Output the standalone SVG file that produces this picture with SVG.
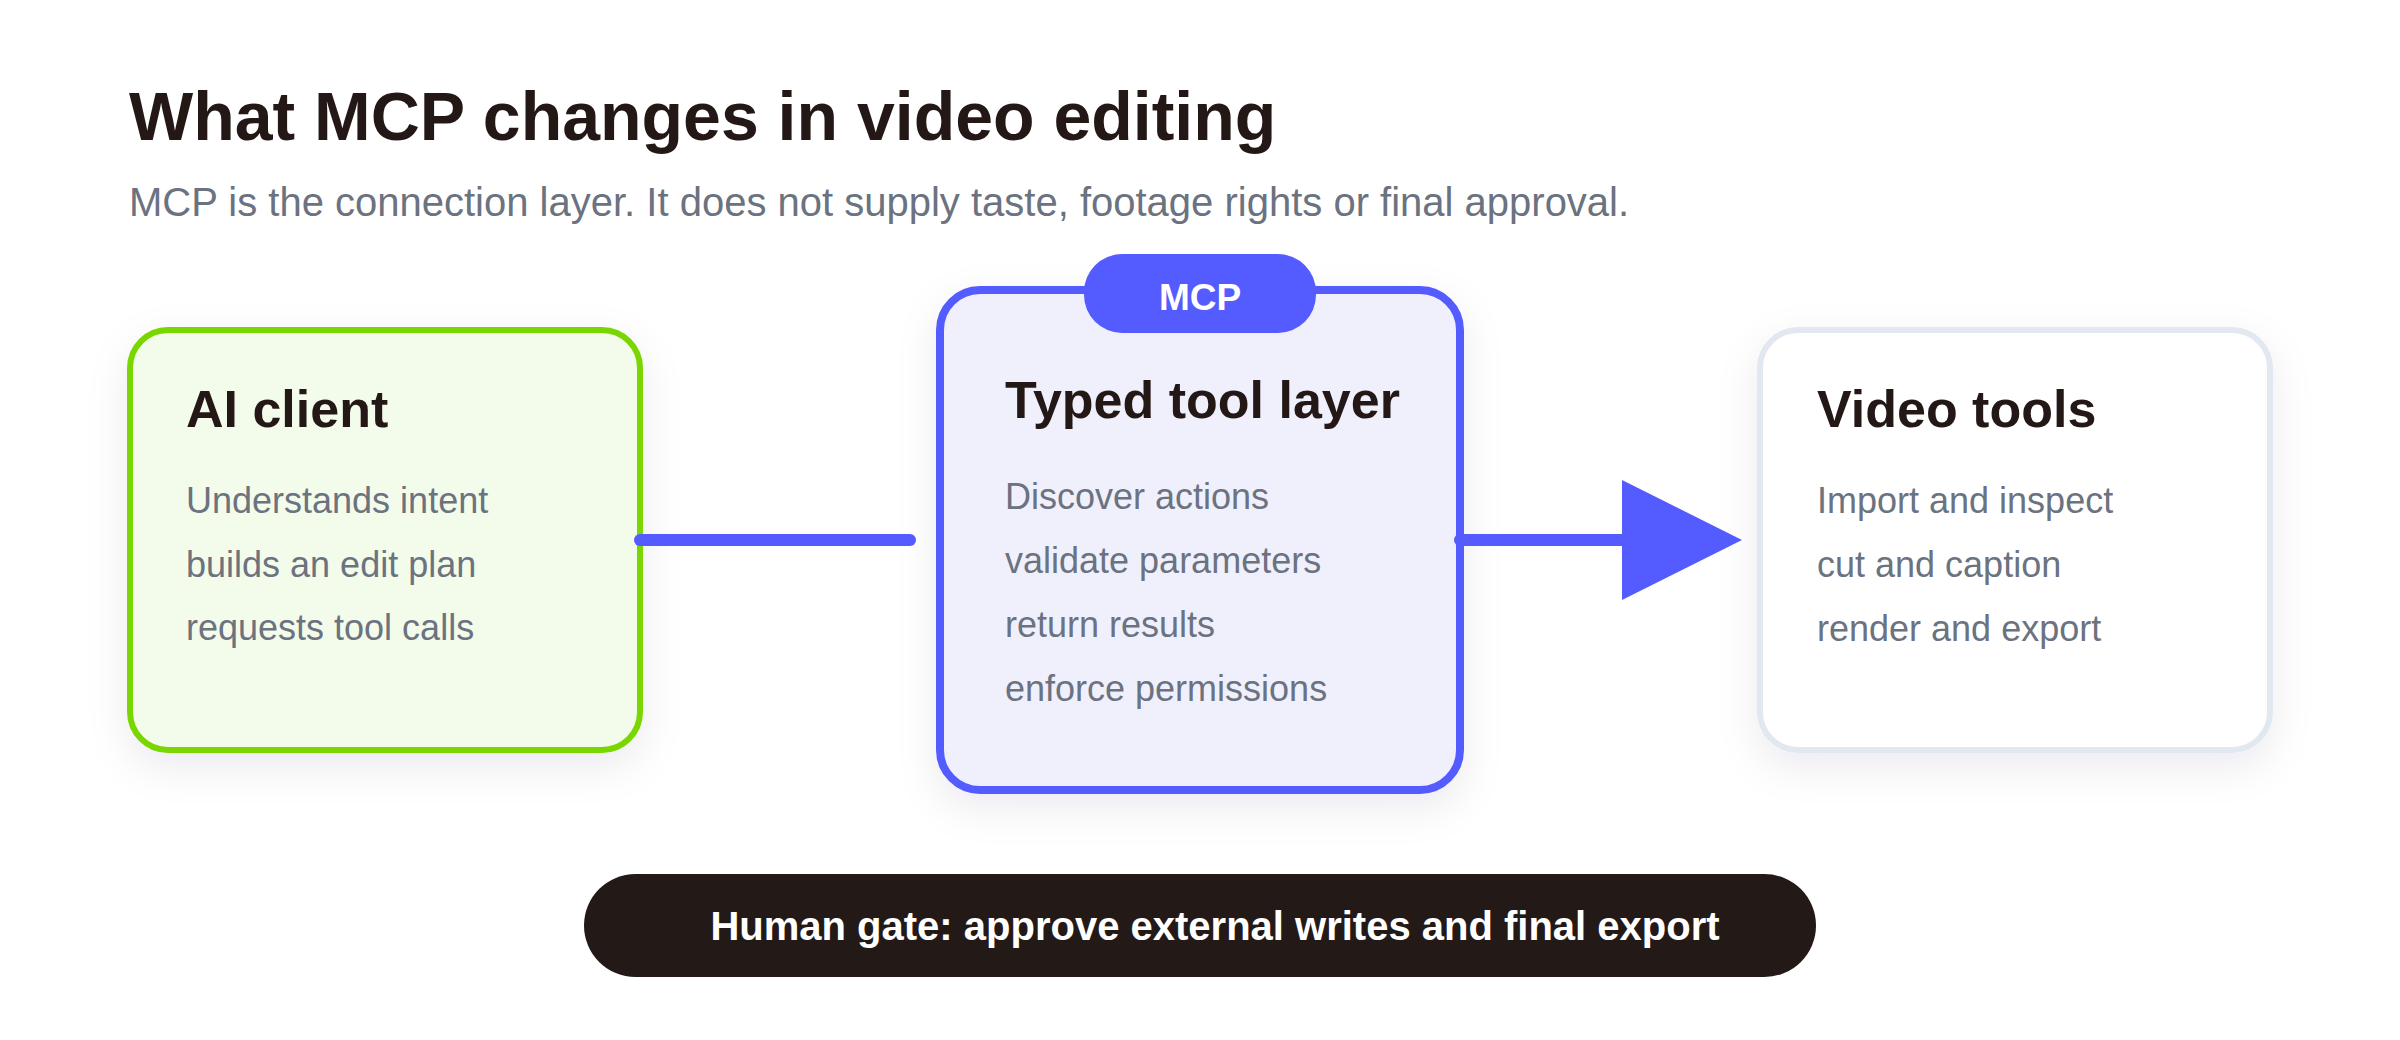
<svg xmlns="http://www.w3.org/2000/svg" width="2400" height="1040" viewBox="0 0 2400 1040">
  <defs>
    <filter id="shadow" x="-20%" y="-20%" width="140%" height="150%">
      <feDropShadow dx="0" dy="14" stdDeviation="20" flood-color="#1f2937" flood-opacity="0.08"/>
    </filter>
    <marker id="arrow" viewBox="0 0 10 10" markerWidth="10" markerHeight="10" refX="0" refY="5" orient="auto" markerUnits="strokeWidth">
      <path d="M0,0 L10,5 L0,10 Z" fill="#545bff"/>
    </marker>
    <style>
      .title { font-family: "Liberation Sans", Arial, Helvetica, sans-serif; font-weight: 700; font-size: 68px; fill: #231815; }
      .subtitle { font-family: "Liberation Sans", Arial, Helvetica, sans-serif; font-size: 40px; fill: #6b7280; }
      .ntitle { font-family: "Liberation Sans", Arial, Helvetica, sans-serif; font-weight: 700; font-size: 52px; fill: #231815; }
      .body { font-family: "Liberation Sans", Arial, Helvetica, sans-serif; font-size: 36px; fill: #6b7280; }
      .badge { font-family: "Liberation Sans", Arial, Helvetica, sans-serif; font-weight: 700; font-size: 37px; fill: #ffffff; }
      .gate { font-family: "Liberation Sans", Arial, Helvetica, sans-serif; font-weight: 700; font-size: 40px; fill: #ffffff; }
      .conn { fill: none; stroke: #545bff; stroke-width: 12; stroke-linecap: round; }
    </style>
  </defs>
  <rect x="0" y="0" width="2400" height="1040" fill="#ffffff"/>

  <g id="heading">
    <text class="title" x="129" y="140">What MCP changes in video editing</text>
    <text class="subtitle" x="129" y="216">MCP is the connection layer. It does not supply taste, footage rights or final approval.</text>
  </g>

  <g id="node-ai-client">
    <rect x="130" y="330" width="510" height="420" rx="38" fill="#f3fbea" stroke="#7ad600" stroke-width="6" filter="url(#shadow)"/>
    <text class="ntitle" x="186" y="427">AI client</text>
    <text class="body" x="186" y="513">Understands intent</text>
    <text class="body" x="186" y="577">builds an edit plan</text>
    <text class="body" x="186" y="640">requests tool calls</text>
  </g>

  <g id="node-video-tools">
    <rect x="1760" y="330" width="510" height="420" rx="38" fill="#ffffff" stroke="#e2e8f0" stroke-width="6" filter="url(#shadow)"/>
    <text class="ntitle" x="1817" y="427">Video tools</text>
    <text class="body" x="1817" y="513">Import and inspect</text>
    <text class="body" x="1817" y="577">cut and caption</text>
    <text class="body" x="1817" y="641">render and export</text>
  </g>

  <g id="node-typed-tool-layer">
    <rect x="940" y="290" width="520" height="500" rx="40" fill="#f0f0fd" stroke="#545bff" stroke-width="8" filter="url(#shadow)"/>
    <text class="ntitle" x="1005" y="418">Typed tool layer</text>
    <text class="body" x="1005" y="509">Discover actions</text>
    <text class="body" x="1005" y="573">validate parameters</text>
    <text class="body" x="1005" y="637">return results</text>
    <text class="body" x="1005" y="701">enforce permissions</text>
  </g>

  <g id="badge-mcp">
    <rect x="1084" y="254" width="232" height="79" rx="38" fill="#545bff"/>
    <text class="badge" x="1200" y="310" text-anchor="middle">MCP</text>
  </g>

  <g id="connectors">
    <path class="conn" d="M640,540 L910,540"/>
    <path class="conn" d="M1460,540 L1622,540" marker-end="url(#arrow)"/>
  </g>

  <g id="node-human-gate">
    <rect x="584" y="874" width="1232" height="103" rx="51.5" fill="#231a18"/>
    <text class="gate" x="1215" y="940" text-anchor="middle">Human gate: approve external writes and final export</text>
  </g>
</svg>
